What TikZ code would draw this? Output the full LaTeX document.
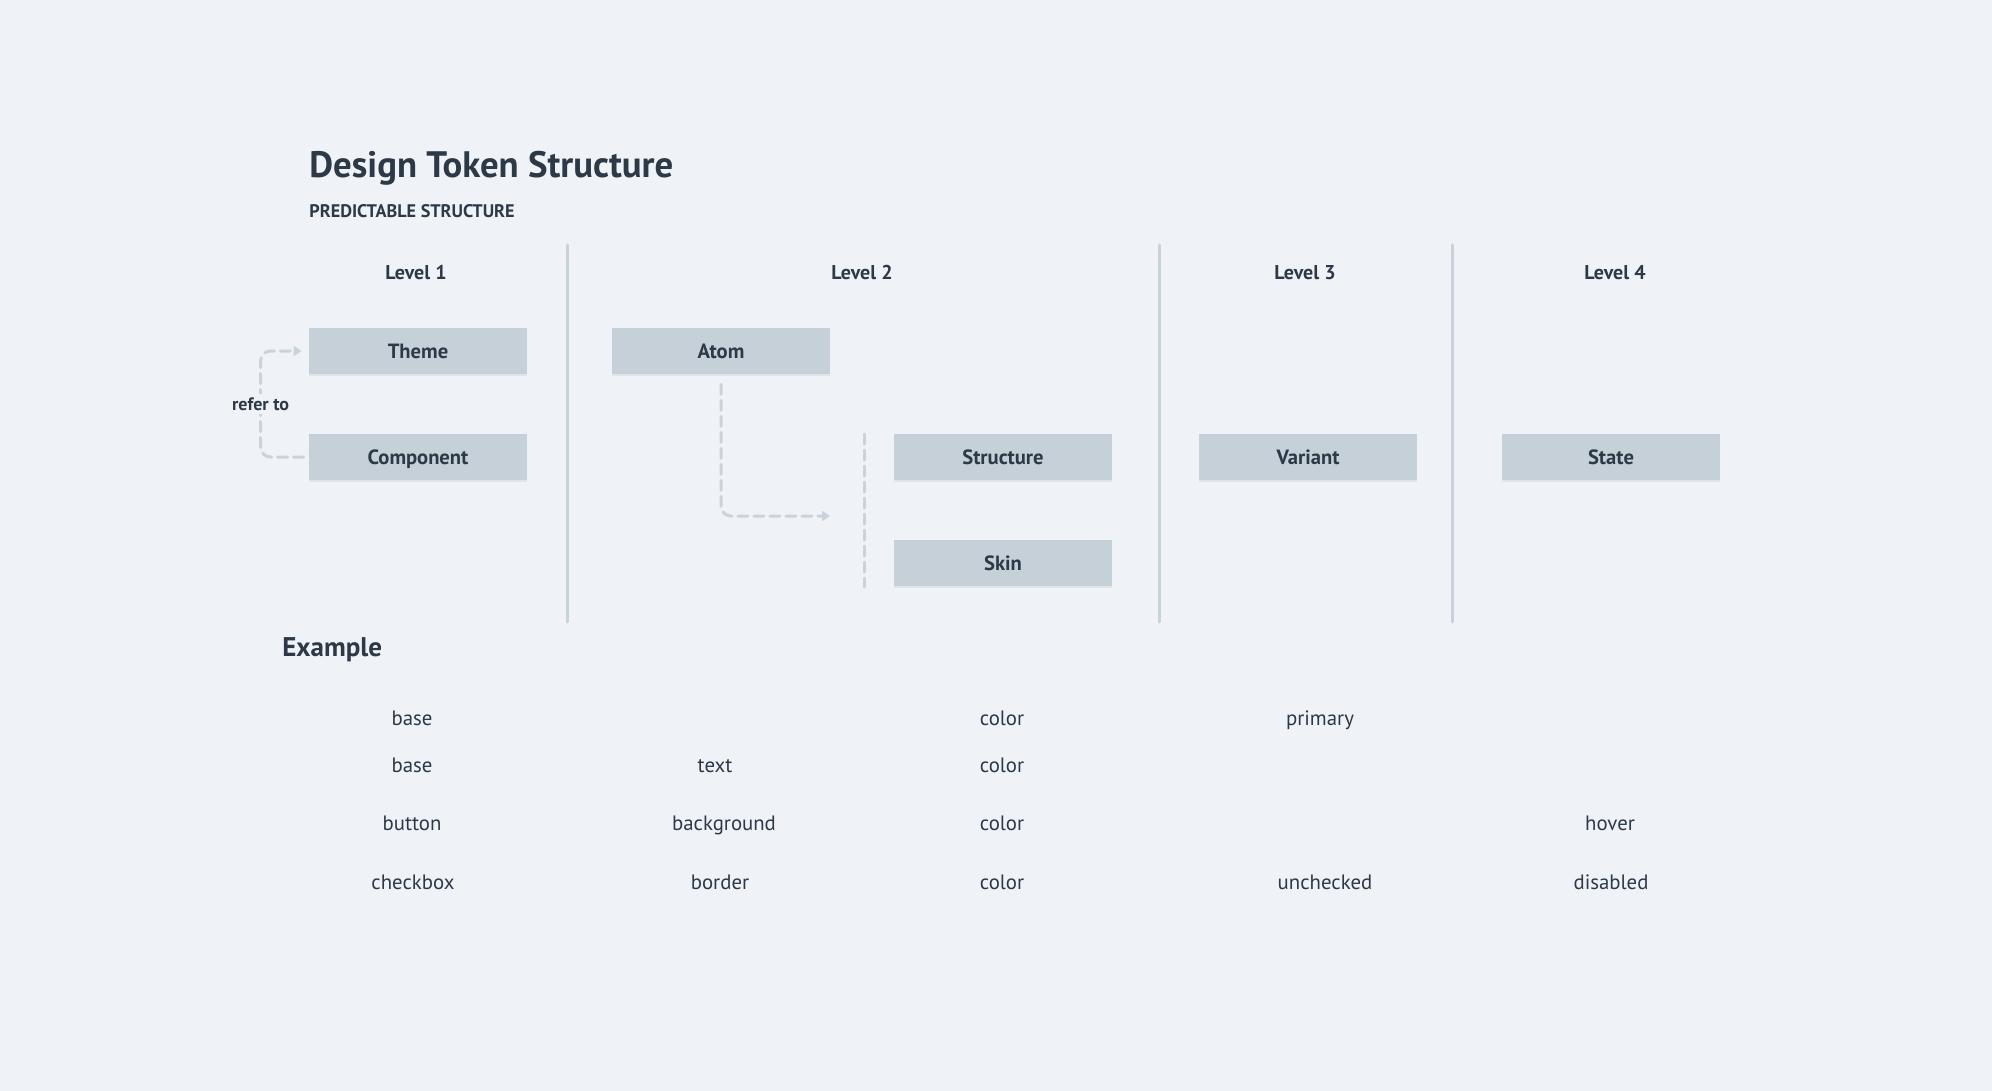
\documentclass[tikz,border=0pt]{standalone}
\usepackage{fontspec}
\setmainfont{PT Sans}
\usetikzlibrary{arrows.meta,shadows,calc}
\definecolor{bg}{HTML}{EFF3F7}
\definecolor{boxc}{HTML}{C6D0D9}
\definecolor{ink}{HTML}{2D3947}
\definecolor{sepc}{HTML}{C9D2DB}
\definecolor{dashc}{HTML}{CAD3DB}
\begin{document}
\begin{tikzpicture}[x=0.5pt,y=-0.5pt,
  tokbox/.style={fill=boxc, minimum width=109pt, minimum height=23pt, inner sep=0pt,
     text=ink, font=\fontsize{10.3}{12}\selectfont\bfseries, text height=0.7em, text depth=0pt,
     drop shadow={opacity=0.12, shadow xshift=0pt, shadow yshift=-1pt}},
  lvl/.style={text=ink, font=\fontsize{10}{12}\selectfont\bfseries, anchor=base, inner sep=0pt},
  ex/.style={text=ink, font=\fontsize{10.4}{12}\selectfont, anchor=base, inner sep=0pt},
  sepline/.style={draw=sepc, line width=1.5pt, line cap=round},
  dashline/.style={draw=dashc, line width=1.5pt, dash pattern=on 5pt off 3pt, line cap=round, rounded corners=5pt},
  tip/.style={-{Triangle[length=4pt,width=5pt]}}
]
\fill[bg] (0,0) rectangle (1992,1091);
\useasboundingbox (0,0) rectangle (1992,1091);

% headings
\node[text=ink, font=\fontsize{18.4}{22}\selectfont\bfseries, anchor=base west, inner sep=0pt] (title) at (309,178) {Design Token Structure};
\node[text=ink, font=\fontsize{9.1}{11}\selectfont\bfseries, anchor=base west, inner sep=0pt] (sub) at (309,218) {PREDICTABLE STRUCTURE};

% level labels
\node[lvl] (l1) at (416,279) {Level 1};
\node[lvl] (l2) at (862,279) {Level 2};
\node[lvl] (l3) at (1305,279) {Level 3};
\node[lvl] (l4) at (1615,279) {Level 4};

% separators
\coordinate (s1t) at (567,245); \coordinate (s1b) at (567,622);
\coordinate (s2t) at (1159,245); \coordinate (s2b) at (1159,622);
\coordinate (s3t) at (1452,245); \coordinate (s3b) at (1452,622);
\draw[sepline] (s1t) -- (s1b);
\draw[sepline] (s2t) -- (s2b);
\draw[sepline] (s3t) -- (s3b);

% boxes
\node[tokbox] (theme) at (418,351) {Theme};
\node[tokbox] (comp) at (418,457) {Component};
\node[tokbox] (atom) at (721,351) {Atom};
\node[tokbox] (struct) at (1003,457) {Structure};
\node[tokbox] (skin) at (1003,563) {Skin};
\node[tokbox] (variant) at (1308,457) {Variant};
\node[tokbox] (state) at (1611,457) {State};

% refer to connector
\draw[dashline, tip] ($(comp.west)+(-5,0)$) -| ($(theme.west)+(-48,0)$) -- ($(theme.west)+(-7,0)$);
\node[text=ink, font=\fontsize{9}{10}\selectfont\bfseries, fill=bg, inner xsep=1pt, inner ysep=2pt] (refer) at ($(theme.west)!0.5!(comp.west)+(-48,0)$) {refer to};

% atom connector
\coordinate (atomend) at (830,516);
\draw[dashline, tip] ($(atom.south)+(0,10)$) |- (atomend);
\coordinate (dtop) at (864,434);
\coordinate (dbot) at (864,587);
\draw[dashline] (dtop) -- (dbot);

% example
\node[text=ink, font=\fontsize{13.5}{16}\selectfont\bfseries, anchor=base west, inner sep=0pt] (exh) at (282,656) {Example};

\node[ex] (r1a) at (412,725) {base};
\node[ex] (r1c) at (1002,725) {color};
\node[ex] (r1d) at (1320,725) {primary};

\node[ex] (r2a) at (412,772) {base};
\node[ex] (r2b) at (715,772) {text};
\node[ex] (r2c) at (1002,772) {color};

\node[ex] (r3a) at (412,830) {button};
\node[ex] (r3b) at (724,830) {background};
\node[ex] (r3c) at (1002,830) {color};
\node[ex] (r3e) at (1610,830) {hover};

\node[ex] (r4a) at (413,889) {checkbox};
\node[ex] (r4b) at (720,889) {border};
\node[ex] (r4c) at (1002,889) {color};
\node[ex] (r4d) at (1325,889) {unchecked};
\node[ex] (r4e) at (1611,889) {disabled};
\end{tikzpicture}
\end{document}
